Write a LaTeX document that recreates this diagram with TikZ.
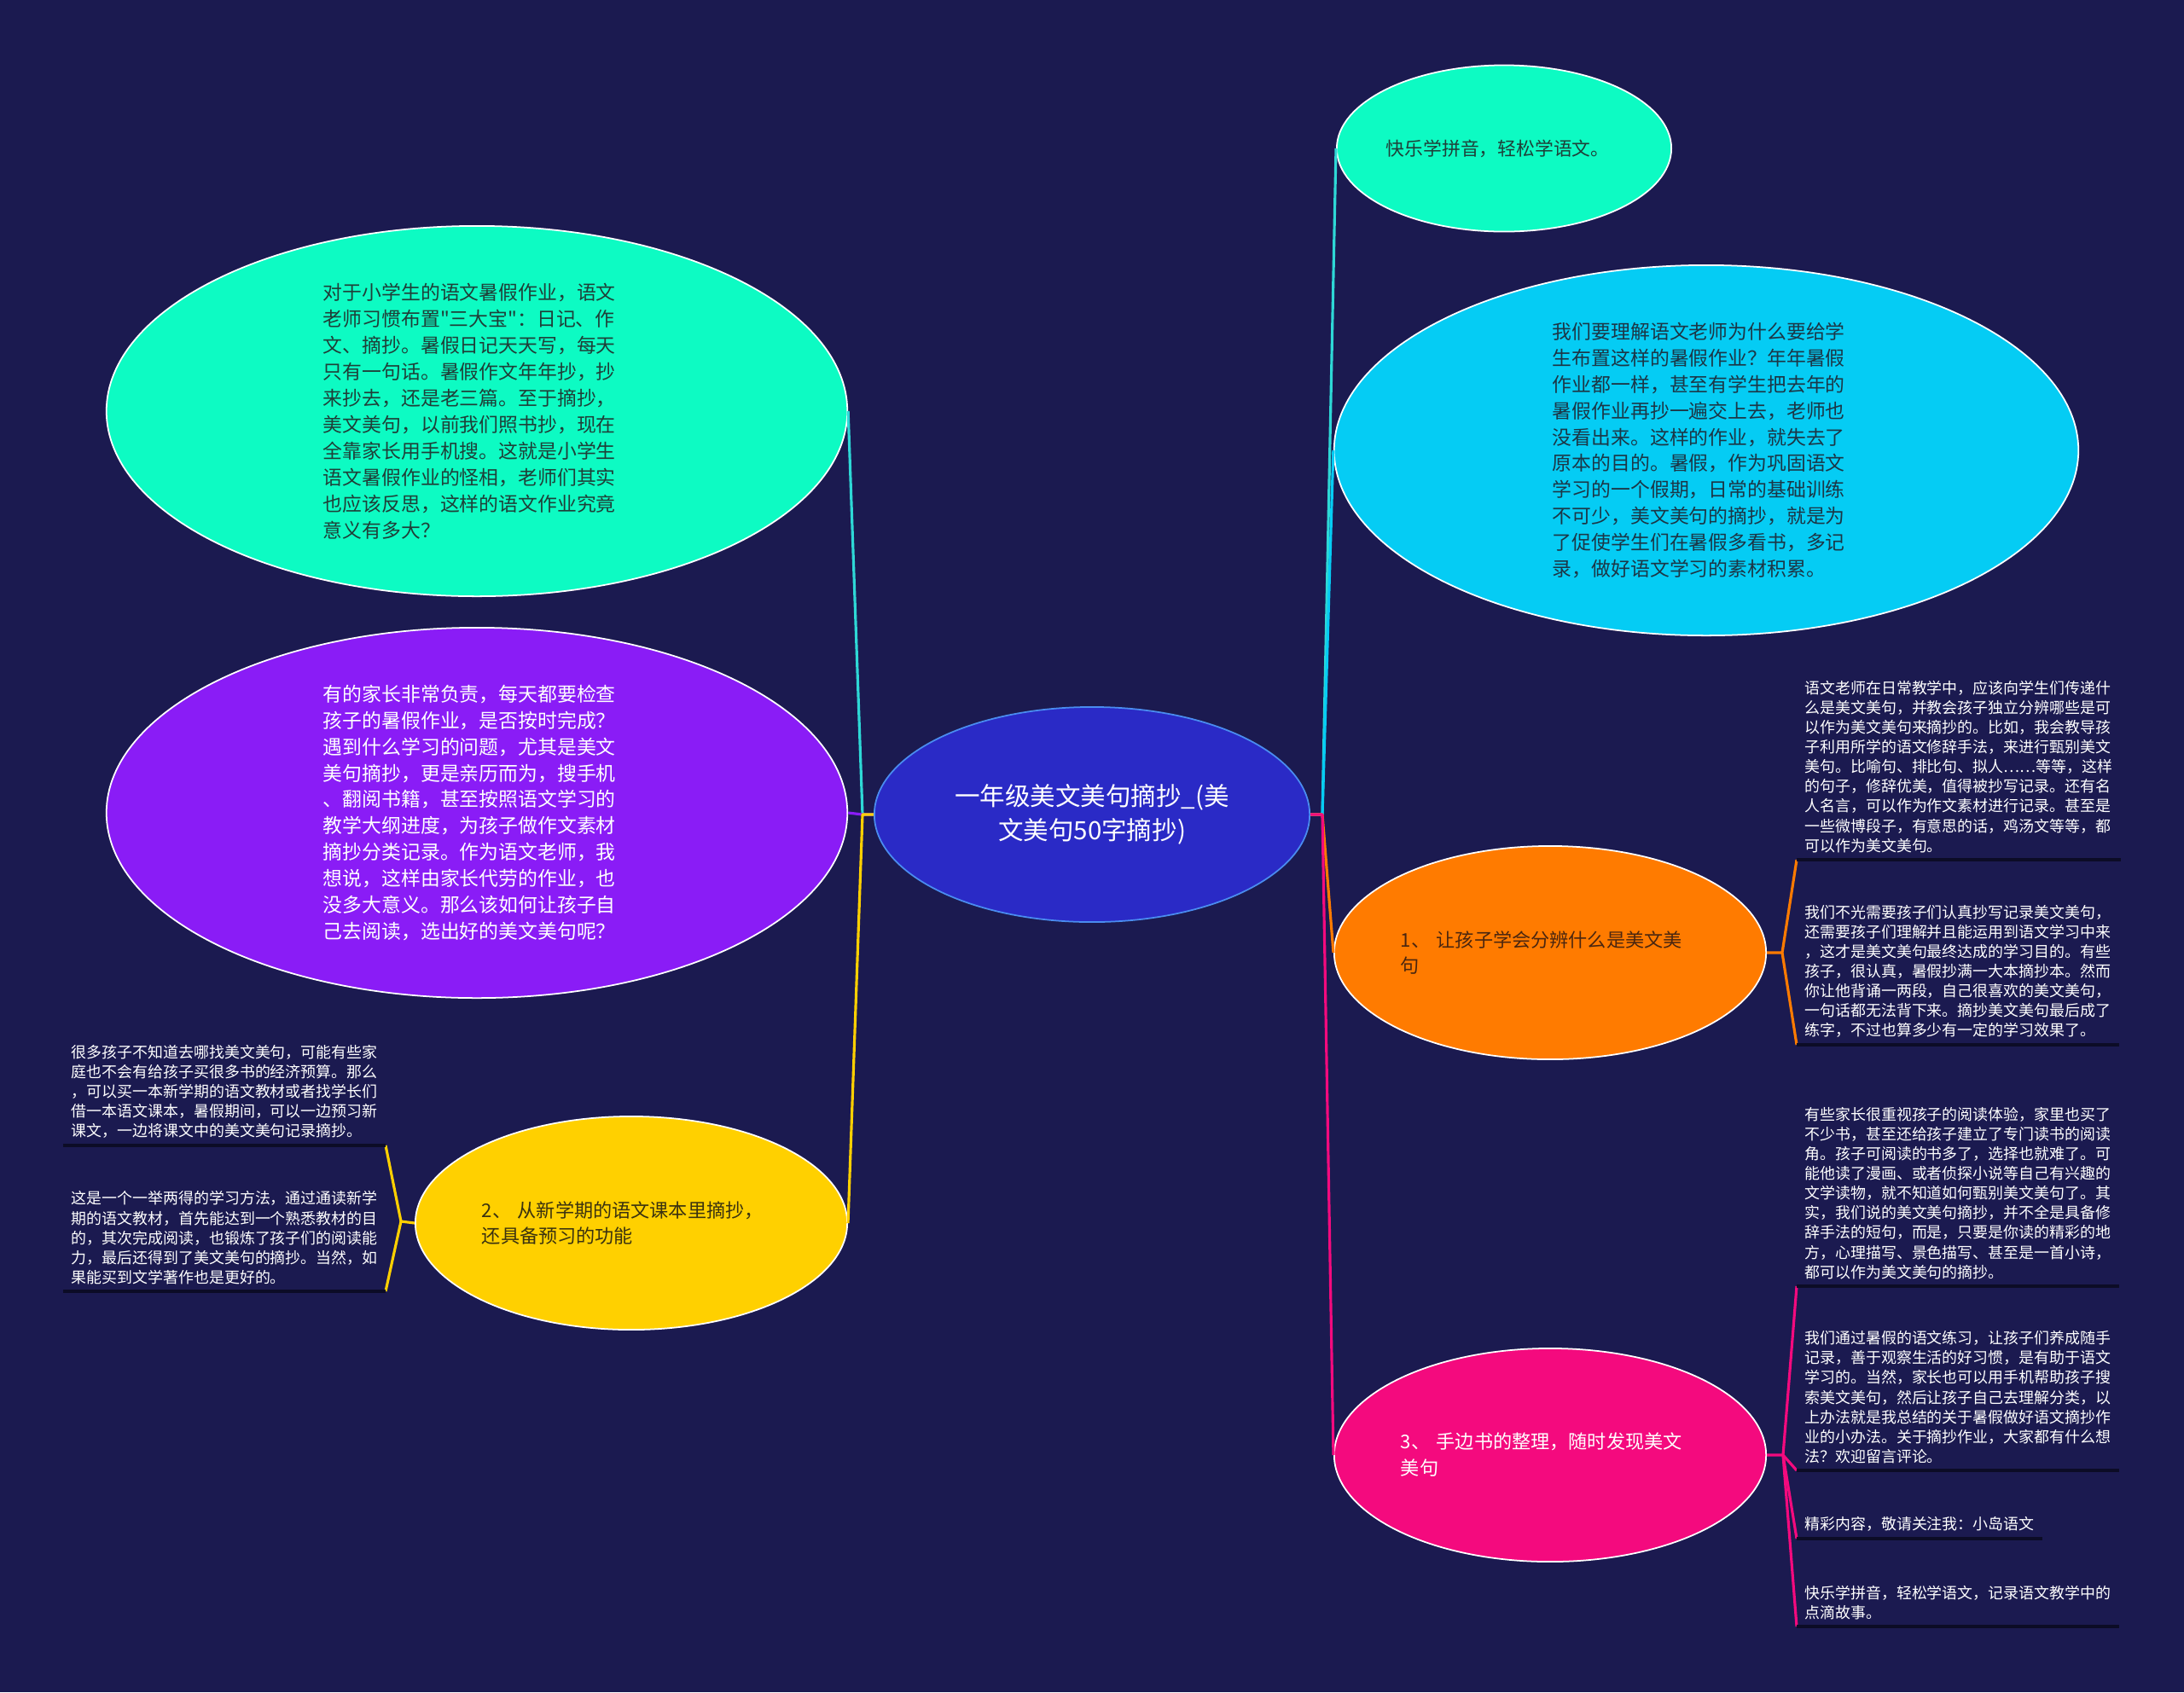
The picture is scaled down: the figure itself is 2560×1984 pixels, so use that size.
\documentclass[tikz,border=0pt]{standalone}
\usepackage{fontspec}
\setmainfont{Noto Sans CJK SC}[Ligatures=TeXOff]
\usepackage{xcolor}
\usetikzlibrary{shapes.geometric}
\definecolor{mapbg}{HTML}{1B1A50}
\definecolor{rootfill}{HTML}{2A2AC6}
\definecolor{rootedge}{HTML}{4A8CF0}
\definecolor{mintfill}{HTML}{0DFBC3}
\definecolor{skyfill}{HTML}{05CCF4}
\definecolor{violetfill}{HTML}{8A1CF6}
\definecolor{goldfill}{HTML}{FFD000}
\definecolor{orangefill}{HTML}{FF7B00}
\definecolor{rosefill}{HTML}{F40A7E}
\definecolor{tealline}{HTML}{2ED8D6}
\definecolor{mintink}{HTML}{1F3F38}
\definecolor{skyink}{HTML}{1C3646}
\definecolor{goldink}{HTML}{3A3210}
\definecolor{orangeink}{HTML}{4A2610}
\definecolor{leafrule}{HTML}{0C0C26}

\begin{document}
\begin{tikzpicture}[
        x=0.01cm, y=-0.01cm,
        topic/.style={
            ellipse,
            draw=white,
            line width=0.5pt,
            inner sep=0pt,
            align=left,
            text width=3.5cm,
            minimum width=5.06cm,
            minimum height=2.5cm,
            font=\fontsize{6.3pt}{8.8pt}\selectfont
        },
        bigtopic/.style={
            topic,
            text width=3.6cm,
            minimum width=8.68cm,
            minimum height=4.34cm,
            font=\fontsize{6.5pt}{8.8pt}\selectfont
        },
        leaf/.style={
            align=left,
            text=white,
            inner xsep=2.5pt,
            inner ysep=2.2pt,
            font=\fontsize{5.1pt}{6.55pt}\selectfont
        },
        link/.style={line width=0.9pt, line join=round},
        rule/.style={leafrule, line width=1.2pt}
    ]
        \fill[mapbg] (0,0) rectangle (2560,1984);

        \node[topic, fill=rootfill, draw=rootedge, text=white, align=center,
              text width=3.6cm, minimum width=5.1cm, minimum height=2.52cm,
              font=\fontsize{8.4pt}{11.4pt}\selectfont] (root) at (1280,955)
            {一年级美文美句摘抄\_(美\\文美句50字摘抄)};

        \node[bigtopic, fill=mintfill, text=mintink] (habit) at (559,482)
            {对于小学生的语文暑假作业，语文\\老师习惯布置"三大宝"：日记、作\\文、摘抄。暑假日记天天写，每天\\只有一句话。暑假作文年年抄，抄\\来抄去，还是老三篇。至于摘抄，\\美文美句，以前我们照书抄，现在\\全靠家长用手机搜。这就是小学生\\语文暑假作业的怪相，老师们其实\\也应该反思，这样的语文作业究竟\\意义有多大？};
        \node[bigtopic, fill=violetfill, text=white] (parent) at (559,953)
            {有的家长非常负责，每天都要检查\\孩子的暑假作业，是否按时完成？\\遇到什么学习的问题，尤其是美文\\美句摘抄，更是亲历而为，搜手机\\、翻阅书籍，甚至按照语文学习的\\教学大纲进度，为孩子做作文素材\\摘抄分类记录。作为语文老师，我\\想说，这样由家长代劳的作业，也\\没多大意义。那么该如何让孩子自\\己去阅读，选出好的美文美句呢？};
        \node[topic, fill=goldfill, text=goldink] (textbook) at (740,1434)
            {2、 从新学期的语文课本里摘抄，\\还具备预习的功能};

        \node[topic, fill=mintfill, text=mintink, text width=2.76cm, minimum width=3.92cm,
              minimum height=1.95cm, font=\fontsize{6.2pt}{8.8pt}\selectfont] (pinyin) at (1763,174)
            {快乐学拼音，轻松学语文。};
        \node[bigtopic, fill=skyfill, text=skyink, minimum width=8.72cm] (why) at (2000,528)
            {我们要理解语文老师为什么要给学\\生布置这样的暑假作业？年年暑假\\作业都一样，甚至有学生把去年的\\暑假作业再抄一遍交上去，老师也\\没看出来。这样的作业，就失去了\\原本的目的。暑假，作为巩固语文\\学习的一个假期，日常的基础训练\\不可少，美文美句的摘抄，就是为\\了促使学生们在暑假多看书，多记\\录，做好语文学习的素材积累。};
        \node[topic, fill=orangefill, text=orangeink] (judge) at (1817,1117)
            {1、 让孩子学会分辨什么是美文美\\句};
        \node[topic, fill=rosefill, text=white] (books) at (1817,1706)
            {3、 手边书的整理，随时发现美文\\美句};

        \node[leaf, anchor=south east] (textbookA) at (452,1343)
            {很多孩子不知道去哪找美文美句，可能有些家\\庭也不会有给孩子买很多书的经济预算。那么\\，可以买一本新学期的语文教材或者找学长们\\借一本语文课本，暑假期间，可以一边预习新\\课文，一边将课文中的美文美句记录摘抄。};
        \node[leaf, anchor=south east] (textbookB) at (452,1514)
            {这是一个一举两得的学习方法，通过通读新学\\期的语文教材，首先能达到一个熟悉教材的目\\的，其次完成阅读，也锻炼了孩子们的阅读能\\力，最后还得到了美文美句的摘抄。当然，如\\果能买到文学著作也是更好的。};

        \node[leaf, anchor=south west] (judgeA) at (2106,1008)
            {语文老师在日常教学中，应该向学生们传递什\\么是美文美句，并教会孩子独立分辨哪些是可\\以作为美文美句来摘抄的。比如，我会教导孩\\子利用所学的语文修辞手法，来进行甄别美文\\美句。比喻句、排比句、拟人……等等，这样\\的句子，修辞优美，值得被抄写记录。还有名\\人名言，可以作为作文素材进行记录。甚至是\\一些微博段子，有意思的话，鸡汤文等等，都\\可以作为美文美句。};
        \node[leaf, anchor=south west] (judgeB) at (2106,1225)
            {我们不光需要孩子们认真抄写记录美文美句，\\还需要孩子们理解并且能运用到语文学习中来\\，这才是美文美句最终达成的学习目的。有些\\孩子，很认真，暑假抄满一大本摘抄本。然而\\你让他背诵一两段，自己很喜欢的美文美句，\\一句话都无法背下来。摘抄美文美句最后成了\\练字，不过也算多少有一定的学习效果了。};

        \node[leaf, anchor=south west] (booksA) at (2106,1508)
            {有些家长很重视孩子的阅读体验，家里也买了\\不少书，甚至还给孩子建立了专门读书的阅读\\角。孩子可阅读的书多了，选择也就难了。可\\能他读了漫画、或者侦探小说等自己有兴趣的\\文学读物，就不知道如何甄别美文美句了。其\\实，我们说的美文美句摘抄，并不全是具备修\\辞手法的短句，而是，只要是你读的精彩的地\\方，心理描写、景色描写、甚至是一首小诗，\\都可以作为美文美句的摘抄。};
        \node[leaf, anchor=south west] (booksB) at (2106,1724)
            {我们通过暑假的语文练习，让孩子们养成随手\\记录，善于观察生活的好习惯，是有助于语文\\学习的。当然，家长也可以用手机帮助孩子搜\\索美文美句，然后让孩子自己去理解分类，以\\上办法就是我总结的关于暑假做好语文摘抄作\\业的小办法。关于摘抄作业，大家都有什么想\\法？欢迎留言评论。};
        \node[leaf, anchor=south west] (booksC) at (2106,1804)
            {精彩内容，敬请关注我：小岛语文};
        \node[leaf, anchor=south west] (booksD) at (2106,1907)
            {快乐学拼音，轻松学语文，记录语文教学中的\\点滴故事。};

        \coordinate (lj) at (1011,955);
        \coordinate (rj) at (1550,955);
        \coordinate (tv) at (470,1432);
        \coordinate (jv) at (2089,1117);
        \coordinate (bv) at (2090,1706);

        \draw[link, tealline] (root.west) -- (lj) -- (habit.east);
        \draw[link, violetfill] (root.west) -- (lj) -- (parent.east);
        \draw[link, goldfill] (root.west) -- (lj) -- (textbook.east);
        \draw[link, tealline] (root.east) -- (rj) -- (pinyin.west);
        \draw[link, skyfill] (root.east) -- (rj) -- (why.west);
        \draw[link, orangefill] (root.east) -- (rj) -- (judge.west);
        \draw[link, rosefill] (root.east) -- (rj) -- (books.west);

        \draw[link, goldfill] (textbook.west) -- (tv) -- (textbookA.south east);
        \draw[link, goldfill] (tv) -- (textbookB.south east);
        \draw[link, orangefill] (judge.east) -- (jv) -- (judgeA.south west);
        \draw[link, orangefill] (jv) -- (judgeB.south west);
        \draw[link, rosefill] (books.east) -- (bv) -- (booksA.south west);
        \draw[link, rosefill] (bv) -- (booksB.south west);
        \draw[link, rosefill] (bv) -- (booksC.south west);
        \draw[link, rosefill] (bv) -- (booksD.south west);

        \draw[rule] (textbookA.south west) -- (textbookA.south east);
        \draw[rule] (textbookB.south west) -- (textbookB.south east);
        \draw[rule] (judgeA.south west) -- (judgeA.south east);
        \draw[rule] (judgeB.south west) -- (judgeB.south east);
        \draw[rule] (booksA.south west) -- (booksA.south east);
        \draw[rule] (booksB.south west) -- (booksB.south east);
        \draw[rule] (booksC.south west) -- (booksC.south east);
        \draw[rule] (booksD.south west) -- (booksD.south east);
    \end{tikzpicture}
\end{document}
